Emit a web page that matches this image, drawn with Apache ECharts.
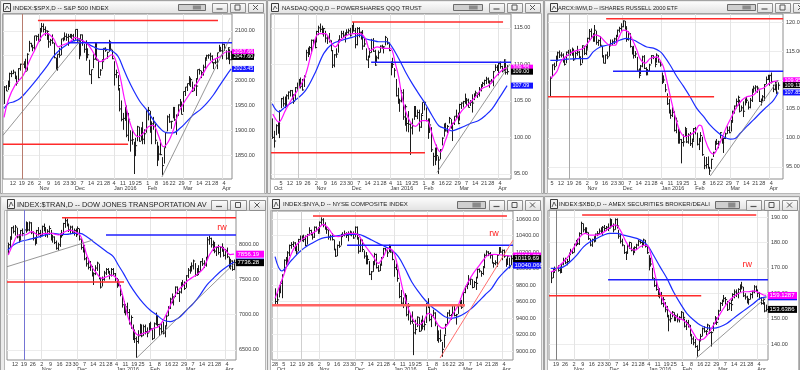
<!DOCTYPE html>
<html><head><meta charset="utf-8">
<script src="https://cdn.jsdelivr.net/npm/echarts@6.0.0/dist/echarts.min.js"></script>
<style>html,body{margin:0;padding:0;background:#dadada;overflow:hidden}#c{width:800px;height:370px}</style>
</head><body><div id="c"></div>
<script>
// ---------- shared date axis (trading-day index, 0 = Mon Oct 5 2015) ----------
const weekIdx  = [-5,0,5,10,15,20,25,30,35,39,44,49,54,58,62,67,72,76,81,86,91,95,100,105,110,115,119,124];
const weekText = ['28','5','12','19','26','2','9','16','23','30','7','14','21','28','4','11','19','25','1','8','16','22','29','7','14','21','28','4'];
const monthIdx  = [-4,20,40,62,81,101,123];
const monthText = ['Oct','Nov','Dec','Jan 2016','Feb','Mar','Apr'];

// ---------- S&P 500 ----------
const spxTitle = 'INDEX:$SPX,D -- S&P 500 INDEX';
const spxStart = 0;
const spxLow = [1953,1979,1981,1987,2007,2013,2003,1990,1998,2020,
 2022,2025,2017,2020,2058,2067,2059,2062,2080,2079,
 2080,2097,2097,2090,2082,2066,2070,2074,2045,2022,
 2020,2046,2051,2079,2082,2080,2070,2086,2084,2080,
 2082,2078,2043,2051,2070,2056,2040,2045,2012,1993,
 2025,2042,2041,2005,2010,2023,2041,2058,2044,2058,
 2062,2043,1990,2005,1980,1938,1918,1901,1919,1886,
 1878,1857,1871,1812,1848,1878,1877,1879,1872,1872,
 1895,1920,1895,1872,1901,1872,1828,1839,1850,1810,
 1833,1866,1898,1915,1903,1924,1919,1891,1929,1947,
 1932,1937,1969,1979,1990,1987,1977,1979,1969,2002,
 2012,2005,2010,2022,2042,2044,2040,2035,2023,2033,
 2023,2058,2058,2043,2060,2042,2042,2033,2041];
const spxHigh = [1989,1991,2000,2016,2020,2022,2018,2010,2025,2034,
 2034,2039,2044,2055,2080,2076,2071,2090,2091,2094,
 2106,2116,2115,2109,2101,2095,2084,2093,2076,2046,
 2053,2066,2084,2087,2097,2095,2094,2094,2094,2094,
 2103,2104,2085,2093,2093,2074,2081,2065,2042,2022,
 2053,2076,2077,2042,2023,2043,2065,2067,2058,2082,
 2077,2062,2039,2022,2011,1985,1960,1935,1947,1950,
 1935,1900,1902,1877,1885,1909,1907,1906,1917,1902,
 1940,1947,1939,1918,1927,1913,1877,1869,1881,1846,
 1865,1896,1930,1933,1919,1947,1946,1932,1952,1963,
 1958,1978,1987,1994,2009,2006,1998,1992,2005,2022,
 2024,2020,2032,2047,2052,2053,2056,2051,2036,2043,
 2056,2072,2068,2075,2074,2061,2067,2063,2060];
const spxClose = [1987,1979,1996,2014,2014,2017,2004,1995,2024,2033,
 2033,2031,2019,2053,2075,2071,2066,2090,2089,2079,
 2104,2109,2103,2100,2099,2078,2081,2076,2046,2023,
 2053,2051,2084,2082,2089,2087,2089,2089,2090,2080,
 2103,2080,2050,2092,2077,2063,2047,2052,2012,2022,
 2043,2073,2041,2006,2021,2038,2065,2061,2057,2078,
 2063,2044,2012,2016,1990,1943,1922,1924,1938,1890,
 1922,1880,1881,1859,1869,1907,1878,1903,1882,1893,
 1940,1940,1903,1913,1915,1880,1853,1852,1851,1829,
 1865,1896,1927,1917,1918,1946,1921,1929,1951,1948,
 1932,1978,1987,1994,1999,2002,1979,1990,1989,2022,
 2020,2016,2027,2041,2050,2051,2049,2036,2036,2037,
 2056,2064,2060,2073,2066,2045,2066,2042,2047.6];
const spxMaFast = [[0,1926],[2.4,1961],[6.2,1991],[10.9,2011],[14.6,2042],[17.4,2062],[21.2,2089],[24,2095],[27.8,2085],[30.6,2068],[33.4,2072],[37.2,2078],[40,2087],[42.8,2083],[46.6,2075],[49.4,2062],[52.2,2045],[54.1,2038],[57.8,2045],[60.7,2052],[62.5,2045],[65.4,2008],[67.6,1968],[70.1,1927],[72.9,1897],[75.7,1887],[78.5,1894],[81.3,1907],[84.1,1910],[87,1890],[89.8,1867],[92.6,1877],[95.4,1900],[98.2,1934],[101.1,1954],[104.8,1974],[108.6,1994],[112.3,2015],[115.1,2031],[118,2042],[121.7,2048],[125.5,2058],[128,2057.66]];
const spxMaSlow = [[0,1944],[2.4,1954],[5.2,1957],[9,1964],[12.7,1978],[16.5,1994],[20.3,2011],[24,2028],[27.8,2048],[31.5,2062],[35.3,2072],[39,2080],[42.8,2082],[46.6,2075],[50.3,2068],[54.1,2063],[57.8,2063],[61.6,2058],[64.4,2048],[67.2,2025],[70.1,2001],[72.9,1981],[76.6,1958],[80.4,1941],[84.1,1921],[87.9,1904],[91.7,1895],[95.4,1895],[99.2,1904],[102.9,1917],[106.7,1931],[110.5,1941],[114.2,1954],[118,1971],[121.7,1991],[125.5,2011],[128,2023.45]];
const spxRedTop = [[19.1,2121],[120.6,2121]];
const spxBlueLevel = [[36,2076],[128.5,2076]];
const spxRedLow = [[-0.6,1872],[69.9,1872]];
const spxTrendA = [[-0.6,1890],[43.9,2084]];
const spxTrendB = [[89,1806],[127.4,2086]];
const spxTicks = [1850,1900,1950,2000,2050,2100];
const spxTagVals = [2023.45,2057.66,2047.60];
const spxTagText = ['2023.45','2057.66','2047.60'];

// ---------- QQQ ----------
const qqqTitle = 'NASDAQ:QQQ,D -- POWERSHARES QQQ TRUST';
const qqqStart = -5;
const qqqLow = [99.8,98.6,100.3,100.5,99.9,104.0,104.2,104.0,104.2,105.2,
 105.6,105.2,104.6,105.1,106.4,106.9,106.7,106.4,106.9,110.5,
 111.0,111.3,111.5,112.5,112.2,113.0,114.0,114.4,114.1,113.8,
 113.0,112.8,113.0,111.8,109.5,109.6,110.9,111.6,113.0,113.6,
 113.6,113.0,113.9,114.2,113.8,114.2,114.5,112.2,112.6,113.7,
 113.4,112.0,112.4,110.6,109.5,110.9,111.6,111.7,109.8,110.3,
 110.7,111.6,112.1,111.5,112.6,112.7,111.8,108.5,109.5,108.2,
 105.6,104.6,103.5,104.8,102.4,101.6,100.8,100.7,97.6,100.4,
 102.4,102.8,102.5,100.8,101.3,103.2,103.7,102.2,99.8,100.6,
 98.0,96.1,96.2,96.8,95.0,97.0,98.9,100.1,100.8,100.6,
 101.9,101.2,99.5,101.7,102.6,101.8,102.3,103.9,104.1,104.6,
 104.3,104.1,104.3,103.4,105.1,105.6,105.4,105.6,106.3,106.9,
 107.1,107.3,107.4,106.8,107.4,107.0,109.1,109.1,108.5,109.4,
 108.9,109.1,108.6,108.6];
const qqqHigh = [102.6,100.9,101.8,102.1,103.7,105.4,105.6,105.6,105.9,106.3,
 106.5,106.5,105.9,106.9,107.5,108.0,108.2,108.0,108.5,112.0,
 112.3,112.5,113.4,113.4,113.6,114.6,115.3,115.6,115.3,115.0,
 114.6,113.9,114.3,113.3,111.9,111.4,112.2,113.4,114.0,114.6,
 114.6,114.4,114.8,114.9,115.0,115.4,115.8,115.0,115.1,115.1,
 114.5,114.7,113.6,112.2,111.2,112.2,113.5,113.6,112.0,111.2,
 111.9,112.6,112.7,112.5,113.9,113.6,113.0,110.4,110.9,109.5,
 108.0,106.8,105.3,106.5,106.6,104.5,102.7,103.6,101.9,102.6,
 104.3,104.3,103.8,103.8,103.3,104.8,104.9,104.1,102.6,102.6,
 101.4,97.9,98.6,99.0,97.4,98.4,100.0,101.9,102.0,101.7,
 102.8,102.5,102.0,102.9,103.8,103.4,104.6,104.8,105.0,106.0,
 105.4,105.3,105.1,105.9,106.0,106.4,106.1,106.9,107.3,107.6,
 107.9,108.3,108.2,107.8,108.0,109.1,110.0,109.9,110.2,110.4,
 109.8,110.7,110.4,109.9];
const qqqClose = [100.0,99.5,101.6,101.9,103.6,105.3,104.6,105.3,105.7,106.2,
 106.4,105.4,104.9,106.8,107.4,107.9,107.0,106.5,108.3,111.6,
 112.1,112.3,113.3,113.1,112.3,114.5,115.0,114.8,114.6,114.9,
 113.6,113.6,113.3,111.9,109.9,111.3,111.4,113.3,113.4,114.2,
 114.0,114.1,114.4,114.6,114.0,115.3,114.6,112.7,114.9,114.4,
 114.3,112.5,112.8,110.6,111.1,111.6,113.3,111.8,109.9,110.9,
 111.6,112.5,112.3,112.4,113.7,112.9,111.9,110.3,110.0,109.2,
 105.7,104.8,105.0,106.1,102.8,104.2,101.9,101.8,101.3,101.6,
 104.0,102.9,103.4,101.4,103.0,104.8,104.8,102.3,101.8,101.7,
 98.3,97.4,97.2,97.5,96.9,98.3,99.9,101.8,100.9,101.5,
 102.6,101.3,101.9,102.9,102.9,101.9,104.5,104.7,104.9,105.3,
 105.1,104.1,104.8,104.7,106.0,106.1,105.9,106.6,107.1,107.4,
 107.8,108.0,107.5,107.7,107.6,109.0,109.6,109.2,110.1,109.7,
 109.1,110.6,108.9,109.0];
const qqqMaFast = [[-4.7,103.2],[-1.3,102.1],[2.5,103.7],[6.2,105.3],[10,106.7],[13.8,108.5],[17.6,111.9],[21.3,114.2],[25.1,114.2],[28,113.1],[30.8,112.4],[33.6,113.3],[37.4,114.0],[41.2,114.2],[44.9,114.2],[47.8,113.5],[50.6,111.9],[54.4,112.4],[58.1,112.2],[61.9,112.2],[64.7,110.1],[66.6,108.3],[68.5,105.5],[70.4,103.7],[73.2,102.1],[76.1,101.5],[79.8,102.3],[82.7,102.3],[84.6,101.2],[87.4,99.1],[90.2,98.0],[93.1,99.6],[95.9,101.4],[98.7,102.3],[102.5,103.7],[106.3,104.6],[110,105.5],[113.8,106.7],[117.6,107.1],[121.4,108.3],[125.1,109.2],[128,109.55]];
const qqqMaSlow = [[-5,104.6],[-1.3,103.5],[2.5,104.2],[8.1,105.1],[13.8,106.4],[19.4,108.9],[24.2,111.5],[28.9,112.8],[34.5,113.3],[40.2,113.7],[44.9,114.0],[47.8,113.5],[51.5,113.3],[55.3,113.1],[60,113.1],[62.8,112.4],[66.6,110.8],[70.4,109.0],[74.2,107.4],[77.9,106.0],[81.7,104.6],[85.5,103.0],[89.3,101.6],[93.1,101.2],[96.8,100.9],[100.6,101.2],[104.4,101.6],[108.2,102.0],[111.9,102.3],[115.7,103.0],[119.5,103.9],[123.3,105.3],[128,107.09]];
const qqqRedTop = [[40.2,115.8],[125.7,115.8]];
const qqqBlueLevel = [[51,110.3],[130.2,110.3]];
const qqqRedLow = [[-5.7,97.9],[81.5,97.9]];
const qqqTrend = [[88.3,95.2],[129.5,110.0]];
const qqqTicks = [95,100,105,110,115];
const qqqTagVals = [107.09,109.55,109.00];
const qqqTagText = ['107.09','109.55','109.00'];

// ---------- IWM ----------
const iwmTitle = 'ARCX:IWM,D -- ISHARES RUSSELL 2000 ETF';
const iwmStart = -1;
const iwmLow = [107.1,110.5,111.7,112.4,113.2,113.8,113.9,113.0,112.5,112.9,
 114.2,114.2,114.2,113.3,113.6,114.2,113.7,112.5,112.9,114.3,
 114.3,115.4,116.9,117.1,116.6,116.6,116.1,115.9,115.8,113.9,
 112.9,112.8,113.6,114.1,115.8,116.0,116.2,116.2,117.4,118.2,
 118.5,119.1,118.7,116.6,116.8,115.6,114.4,113.7,113.8,111.6,
 110.3,111.0,112.2,111.9,110.8,110.9,111.5,112.8,113.6,112.2,
 113.0,113.0,112.3,109.3,109.5,107.9,105.7,104.2,103.3,103.6,
 101.1,100.8,99.0,99.0,95.6,98.5,100.2,99.1,99.0,98.6,
 98.3,99.5,100.6,98.7,97.9,99.3,96.9,94.6,94.7,94.7,
 93.6,94.6,96.7,97.9,98.8,98.2,99.9,99.0,97.4,99.8,
 100.7,100.8,101.1,102.6,104.2,105.1,105.6,104.4,104.6,103.6,
 105.6,106.0,104.9,105.1,106.2,107.8,108.0,107.8,106.2,105.6,
 106.3,106.4,109.3,110.0,109.0,109.4,107.9,108.2,107.6,108.3];
const iwmHigh = [110.6,112.7,113.0,114.2,114.9,115.1,114.8,114.6,113.8,114.9,
 115.2,115.3,115.6,115.4,114.9,115.9,115.0,114.0,116.0,115.9,
 115.9,117.3,118.8,118.9,118.1,119.5,118.5,117.0,117.6,115.9,
 114.3,114.4,114.9,116.2,117.0,117.0,117.3,117.8,118.7,119.2,
 119.8,120.3,120.2,119.3,118.4,118.1,115.8,115.9,115.0,114.0,
 112.0,112.6,114.2,114.3,112.2,111.9,112.8,114.3,114.3,113.8,
 114.6,114.3,113.3,111.3,110.8,109.3,107.7,106.7,104.9,105.3,
 104.6,103.5,101.6,101.4,99.8,100.6,101.9,101.5,100.8,101.0,
 99.9,101.7,101.9,100.9,100.0,101.0,100.2,96.8,96.7,96.8,
 95.0,96.4,97.6,99.5,99.8,99.5,101.0,100.5,100.0,100.9,
 102.0,102.0,103.1,104.7,105.6,106.8,107.3,106.6,105.6,106.3,
 106.8,107.1,106.3,106.9,108.5,109.0,109.1,109.0,108.2,106.8,
 107.4,109.3,110.6,110.9,110.9,111.3,109.2,109.7,109.4,109.6];
const iwmClose = [110.3,112.6,112.3,114.0,114.7,114.3,114.3,113.3,112.7,114.8,
 114.9,114.8,114.9,113.5,114.6,114.8,114.0,112.7,115.9,114.6,
 115.2,117.2,118.4,117.5,117.3,118.6,116.5,116.8,116.0,114.0,
 112.9,114.3,114.0,116.1,116.3,116.6,117.1,117.6,118.6,118.9,
 119.2,120.2,118.9,117.0,118.0,115.8,114.9,114.2,114.5,111.7,
 110.8,112.4,114.0,112.0,110.9,111.6,112.6,114.2,113.9,112.7,
 114.3,113.1,112.6,110.3,110.0,108.3,105.9,104.4,103.9,104.4,
 101.3,102.9,99.7,99.7,99.2,99.3,101.6,99.3,100.5,99.0,
 99.4,101.6,101.5,98.9,99.8,100.4,97.1,95.2,95.4,94.8,
 94.3,96.3,97.5,99.4,99.0,99.3,100.9,99.2,99.9,100.7,
 101.3,100.9,103.0,104.6,105.5,106.3,107.0,104.6,105.2,104.6,
 106.7,106.5,105.3,106.5,108.3,108.6,108.8,108.6,106.3,106.5,
 107.1,109.2,110.1,110.6,110.8,109.7,108.4,109.6,107.9,109.1];
const iwmMaFast = [[-0.8,110.3],[2.6,111.4],[5.5,113.4],[12.1,114.9],[17.7,115.5],[21.5,116.9],[24.3,117.8],[27.2,117.5],[30,116.6],[32.8,116.0],[35.7,116.0],[37.6,117.2],[40.4,118.6],[43.2,118.3],[45.1,117.2],[48,115.2],[49.8,113.7],[52.7,112.9],[55.5,113.7],[59.3,114.0],[61.5,113.2],[63,112.3],[65.3,109.4],[67.8,106.0],[70.2,103.1],[72.5,101.1],[75.3,100.2],[78.1,100.5],[81,101.1],[83.4,102.2],[84.7,102.0],[86.6,99.7],[89.5,97.6],[91.4,97.2],[93.6,98.2],[96.1,99.9],[98.9,102.0],[101.7,103.7],[104.6,105.4],[107.4,106.5],[110.2,107.1],[114,107.4],[116.8,108.3],[119.7,108.6],[123.4,109.5],[128,109.9]];
const iwmMaSlow = [[-1,113.4],[2.6,113.4],[8.3,113.6],[14,113.7],[19.6,113.7],[23.4,114.9],[27.2,115.7],[31,116.0],[34.7,116.4],[38.5,116.9],[42.3,117.2],[46.1,116.9],[49.8,116.3],[53.6,115.7],[57.4,115.5],[61.2,114.9],[63,114.3],[66.8,112.6],[70.6,110.6],[74.4,108.9],[78.1,107.1],[81.9,105.1],[85.7,103.7],[89.5,102.2],[93.2,101.1],[97,100.2],[100.8,99.8],[103.6,99.9],[106.5,100.8],[110.2,102.0],[114,103.1],[117.8,104.3],[121.6,105.4],[125.3,106.5],[128,107.85]];
const iwmRedTop = [[30.6,120.6],[130.8,120.6]];
const iwmBlueLevel = [[34.5,111.5],[130.8,111.5]];
const iwmRedLow = [[-2.3,107.1],[91.7,107.1]];
const iwmTrend = [[89.5,93.4],[128,110.0]];
const iwmTicks = [95,100,105,110,115,120];
const iwmTagVals = [107.85,109.95,109.11];
const iwmTagText = ['107.85','109.95','109.11'];

// ---------- Dow Jones Transportation ----------
const tranTitle = 'INDEX:$TRAN,D -- DOW JONES TRANSPORTATION AV';
const tranStart = 1;
const tranLow = [7860,7950,8060,8150,8120,8080,8020,8050,8110,8090,
 8160,8180,8180,8140,8050,7980,8010,8120,8090,8110,
 8180,8100,8090,8130,8050,8020,8000,7920,7910,7960,
 8090,8130,8230,8250,8170,8140,8150,8120,8100,8130,
 8050,7920,7880,7770,7680,7640,7620,7540,7420,7560,
 7620,7500,7370,7400,7480,7560,7580,7500,7540,7560,
 7470,7380,7400,7260,7100,7020,6990,6980,6860,6800,
 6640,6600,6390,6590,6700,6680,6700,6720,6680,6750,
 6780,6640,6660,6850,6830,6700,6720,6720,6680,6830,
 6980,7080,7160,7130,7250,7290,7180,7300,7390,7350,
 7380,7520,7580,7610,7640,7540,7550,7560,7620,7690,
 7660,7680,7780,7990,7950,7900,7870,7830,7850,7810,
 7890,7820,7780,7800,7660,7640,7620,7630];
const tranHigh = [8020,8110,8240,8260,8270,8230,8140,8200,8220,8210,
 8320,8310,8320,8310,8180,8100,8200,8240,8200,8260,
 8290,8240,8210,8260,8200,8130,8110,8050,8020,8150,
 8200,8300,8370,8360,8290,8260,8260,8220,8220,8250,
 8220,8080,8010,7960,7820,7800,7760,7690,7600,7700,
 7750,7720,7530,7540,7620,7660,7660,7620,7660,7660,
 7590,7520,7500,7420,7280,7190,7150,7170,7080,6990,
 6860,6790,6690,6780,6870,6860,6860,6860,6820,6880,
 6900,6810,6890,7030,6990,6870,6880,6900,6850,7000,
 7120,7240,7300,7260,7400,7400,7340,7460,7490,7470,
 7560,7660,7690,7740,7780,7730,7660,7700,7760,7800,
 7770,7820,8100,8120,8090,8050,8030,7960,7990,7960,
 8010,7960,7930,7950,7820,7790,7770,7780];
const tranClose = [7990,8090,8230,8180,8240,8100,8060,8190,8150,8200,
 8290,8200,8300,8160,8080,8010,8190,8150,8120,8250,
 8200,8130,8180,8220,8070,8100,8020,7940,7990,8140,
 8120,8290,8330,8270,8200,8240,8170,8190,8130,8220,
 8070,7950,7980,7790,7720,7670,7700,7560,7580,7660,
 7730,7520,7390,7500,7590,7640,7600,7560,7640,7580,
 7510,7450,7420,7290,7140,7050,7110,7030,6880,6960,
 6690,6660,6620,6700,6850,6700,6830,6760,6740,6870,
 6800,6660,6870,6980,6860,6800,6760,6740,6810,6980,
 7090,7220,7180,7240,7390,7300,7320,7450,7420,7370,
 7550,7630,7670,7690,7760,7560,7640,7610,7750,7720,
 7700,7800,8060,8080,7990,8020,7900,7950,7880,7950,
 7920,7840,7910,7820,7690,7760,7640,7736.28];
const tranMaFast = [[1.25,7844],[4.1,8010],[6.9,8128],[10.6,8128],[14.4,8175],[18.1,8128],[21.8,8151],[25.6,8151],[29.3,8128],[33.1,8175],[35.9,8198],[38.7,8175],[41.5,8128],[43.4,8010],[45.3,7844],[48.1,7679],[50.9,7585],[53.7,7514],[56.5,7537],[59.3,7561],[61.2,7537],[63.1,7467],[64.9,7325],[66.8,7136],[68.7,6947],[71.5,6782],[74.3,6711],[77.1,6735],[79.9,6758],[82.7,6806],[85.5,6829],[88.3,6924],[91.1,7065],[94,7231],[96.8,7349],[99.6,7419],[102.4,7490],[105.2,7537],[108,7585],[110.8,7655],[112.7,7760],[114.5,7860],[117.3,7950],[120.2,7965],[123,7915],[125.8,7850],[128,7856.19]];
const tranMaSlow = [[1,7915],[4.1,7986],[7.8,8033],[11.6,8057],[15.3,8080],[19,8104],[22.8,8137],[26.5,8151],[30.3,8137],[34,8137],[37.8,8151],[41.5,8151],[45.3,8104],[49,8033],[52.8,7962],[56.5,7891],[60.2,7821],[63,7703],[65.9,7585],[69.6,7419],[73.4,7278],[77.1,7160],[80.8,7065],[84.6,6994],[88.3,6924],[92.1,6900],[94.9,6924],[97.7,6971],[101.4,7065],[105.2,7160],[108.9,7278],[112.7,7419],[116.4,7514],[120.2,7608],[123.9,7679],[128,7745]];
const tranRedTop = [[31.4,8372],[129.1,8372]];
const tranBlueLevel = [[56.1,8127],[129.1,8127]];
const tranRedLow = [[0.5,7462],[66.2,7462]];
const tranTrendA = [[0.5,7679],[48.8,8057]];
const tranTrendB = [[73.5,6391],[128.6,7736]];
const tranTicks = [6500,7000,7500,8000];
const tranTagVals = [7745.20,7856.19,7736.28];
const tranTagText = ['7745.20','7856.19','7736.28'];
const tranRw = [[121.3,8227]];

// ---------- NYSE Composite ----------
const nyaTitle = 'INDEX:$NYA,D -- NYSE COMPOSITE INDEX';
const nyaStart = -5;
const nyaLow = [9560,9570,9650,9700,9640,9950,10040,10070,10150,10240,
 10260,10210,10170,10210,10330,10330,10320,10270,10290,10400,
 10400,10350,10370,10450,10420,10440,10530,10500,10470,10420,
 10350,10340,10340,10220,10140,10150,10250,10280,10380,10390,
 10370,10330,10400,10390,10360,10380,10350,10180,10200,10200,
 10120,10050,10050,9920,9860,9960,10040,10000,9960,9970,
 10040,10130,10200,10140,10200,10190,10100,9900,9980,9840,
 9640,9560,9520,9560,9420,9370,9320,9330,8950,9200,
 9290,9230,9240,9260,9250,9340,9520,9360,9290,9400,
 9300,9120,9100,9110,8930,9040,9200,9320,9420,9380,
 9440,9420,9320,9450,9540,9510,9540,9700,9750,9800,
 9800,9760,9770,9740,9880,9950,9900,9920,10010,10150,
 10150,10120,10060,10010,10040,10020,10170,10190,10100,10130,
 10020,10050,10000,10040];
const nyaHigh = [9760,9700,9800,9840,9930,10110,10140,10210,10290,10320,
 10330,10320,10280,10360,10400,10400,10410,10400,10420,10500,
 10470,10430,10510,10510,10500,10570,10620,10610,10560,10510,
 10470,10410,10430,10350,10240,10290,10330,10420,10440,10460,
 10440,10450,10460,10450,10450,10510,10510,10380,10360,10350,
 10220,10200,10160,10090,9970,10090,10190,10180,10040,10060,
 10140,10250,10250,10220,10290,10280,10210,10100,10060,9990,
 9830,9740,9650,9700,9680,9580,9440,9480,9330,9380,
 9420,9410,9380,9430,9380,9580,9640,9540,9450,9500,
 9470,9310,9250,9260,9110,9200,9330,9470,9500,9450,
 9560,9550,9450,9560,9640,9620,9720,9790,9830,9920,
 9890,9870,9850,9900,10000,10000,9970,10030,10180,10220,
 10210,10200,10170,10070,10100,10170,10260,10260,10230,10230,
 10120,10160,10130,10160];
const nyaClose = [9600,9620,9790,9820,9920,10100,10080,10190,10280,10290,
 10310,10230,10200,10350,10390,10370,10350,10280,10410,10460,
 10420,10380,10500,10470,10430,10560,10590,10530,10500,10470,
 10380,10390,10350,10230,10150,10280,10270,10410,10400,10420,
 10400,10420,10420,10420,10370,10500,10370,10210,10350,10230,
 10150,10080,10110,9930,9960,10050,10170,10010,9970,10040,
 10120,10240,10220,10190,10280,10200,10110,10010,10030,9880,
 9660,9580,9560,9620,9440,9540,9360,9360,9220,9260,
 9410,9240,9370,9300,9320,9570,9560,9380,9430,9460,
 9330,9200,9150,9130,9020,9190,9320,9460,9430,9430,
 9550,9430,9440,9550,9580,9530,9710,9780,9820,9860,
 9870,9770,9830,9820,9990,9970,9940,10010,10160,10200,
 10180,10160,10070,10060,10070,10160,10230,10200,10220,10150,
 10050,10150,10020,10119.69];
const nyaMaFast = [[-5,9638],[-2.2,9800],[0.6,9962],[3.5,10143],[6.3,10265],[10,10345],[13.8,10406],[17.5,10446],[20.4,10507],[22.2,10535],[25.1,10487],[27.9,10406],[30.7,10386],[33.5,10406],[36.3,10426],[39.1,10426],[42,10406],[44.8,10305],[47.6,10224],[50.4,10143],[53.2,10063],[56,10143],[58.9,10244],[61.7,10204],[63.5,10083],[65.4,9901],[67.3,9719],[70.1,9517],[73,9376],[75.8,9315],[78.6,9356],[81.4,9457],[84.2,9416],[87,9315],[89.8,9275],[92.7,9335],[95.5,9457],[98.3,9558],[101.1,9719],[103.9,9840],[106.7,9941],[109.6,10022],[112.4,10103],[115.2,10164],[118.9,10172],[122.7,10164],[128,10150]];
const nyaMaSlow = [[-5,10143],[-1.2,9970],[4.4,10103],[10,10224],[15.7,10305],[21.3,10366],[26.9,10386],[32.6,10406],[38.2,10414],[42,10414],[45.7,10386],[49.5,10345],[53.2,10305],[57,10265],[60.7,10224],[64.5,10143],[68.2,10002],[72,9840],[75.8,9719],[79.5,9618],[83.3,9537],[87,9477],[90.8,9416],[94.5,9396],[98.3,9416],[102,9457],[105.8,9517],[109.6,9598],[113.3,9679],[117.1,9760],[120.8,9881],[124.6,9970],[128,10040.066]];
const nyaRedTop = [[16.4,10636],[125.7,10636]];
const nyaBlueLevel = [[35.6,10282],[129.1,10282]];
const nyaRedLow = [[-6.7,9555],[102,9555]];
const nyaTrend = [[88,8915],[129.1,10343]];
const nyaTicks = [9000,9200,9400,9600,9800,10000,10200,10400,10600];
const nyaTagVals = [10040.066,10151.2,10119.69];
const nyaTagText = ['10040.066','10151.20','10119.69'];
const nyaRw = [[118.4,10430]];

// ---------- AMEX Securities Broker/Dealer ----------
const xbdTitle = 'INDEX:$XBD,D -- AMEX SECURITIES BROKER/DEALI';
const xbdStart = 7;
const xbdLow = [164.0,166.0,168.0,168.0,168.5,167.8,168.0,171.0,171.5,171.0,
 172.5,175.0,175.5,176.0,178.5,179.0,179.0,183.0,184.0,183.5,
 183.5,181.0,178.5,178.3,180.0,180.5,182.5,183.0,183.5,183.0,
 184.5,184.5,184.5,185.5,186.0,184.0,185.0,185.5,181.5,179.6,
 178.5,175.5,173.1,175.5,177.5,176.5,175.0,176.0,177.0,178.5,
 179.5,178.0,179.0,178.0,175.5,169.0,170.5,165.5,162.5,161.0,
 158.5,158.0,155.5,154.5,152.5,150.5,145.0,148.5,150.5,149.0,
 149.0,148.5,148.5,150.0,149.5,146.5,145.5,146.5,143.0,140.0,
 139.5,138.5,135.0,137.5,141.0,143.0,144.5,143.5,145.5,144.0,
 139.0,145.0,148.0,147.5,149.5,153.0,155.0,156.5,155.5,153.0,
 153.5,153.0,157.0,158.0,158.5,158.0,160.5,161.5,158.5,157.5,
 156.0,155.5,157.5,158.0,160.0,160.5,158.5,157.5,155.5,155.5,
 152.5,152.8];
const xbdHigh = [168.5,169.5,170.5,170.5,171.0,170.5,171.8,174.0,174.0,173.5,
 176.0,177.5,177.5,179.5,181.0,181.5,184.0,188.2,187.5,186.0,
 186.0,184.0,181.5,181.5,182.5,183.5,184.5,185.5,186.0,186.5,
 186.9,186.5,187.5,189.5,189.0,187.5,189.5,189.5,185.0,183.5,
 181.5,179.0,176.5,179.0,180.3,180.0,178.0,178.5,179.5,181.0,
 181.0,180.5,181.5,181.0,178.5,175.0,174.0,170.0,166.0,165.0,
 162.5,162.0,160.5,158.5,156.5,155.0,151.5,152.0,153.0,152.5,
 151.5,152.0,151.0,153.0,152.5,150.0,149.5,149.5,147.5,144.0,
 143.0,142.0,139.5,142.0,144.0,146.5,147.0,145.5,148.0,147.5,
 145.0,148.5,151.0,150.5,153.5,156.5,157.5,159.3,158.5,157.0,
 156.5,157.5,160.0,161.5,161.5,162.0,163.5,164.5,162.5,160.0,
 159.0,158.0,160.0,161.0,163.2,163.0,161.5,160.5,158.5,158.0,
 156.5,155.5];
const xbdClose = [166.0,169.3,169.0,170.0,169.0,168.2,171.5,173.0,172.0,172.5,
 175.8,176.5,176.0,179.3,180.5,179.5,183.5,187.5,185.0,185.5,
 184.0,181.5,179.0,181.2,180.5,183.3,183.5,184.5,185.0,186.0,
 185.5,186.0,185.5,189.0,186.5,185.0,189.0,186.5,182.5,180.5,
 179.0,176.0,176.0,178.5,180.0,177.0,176.0,178.0,179.0,180.5,
 180.0,179.5,181.0,178.5,176.0,172.5,171.5,166.0,163.0,161.5,
 160.0,159.5,156.0,157.5,153.5,151.0,149.5,150.0,152.5,149.5,
 151.0,149.5,150.5,152.5,150.5,147.0,148.5,147.5,143.5,142.0,
 140.5,139.0,137.5,141.5,143.0,146.0,145.0,145.0,147.5,144.5,
 144.5,148.0,149.5,148.5,153.0,156.0,157.0,158.0,157.5,153.5,
 156.0,155.5,159.5,160.5,160.0,161.5,162.0,162.5,159.0,158.5,
 156.5,157.5,159.5,160.5,162.5,161.0,160.0,158.0,156.0,157.5,
 153.0,153.64];
const xbdMaFast = [[7,168.5],[9.4,169.1],[12.2,171.1],[16,173.7],[19.7,177.7],[23.5,182.3],[26.3,183.6],[29.1,182.9],[31.9,182.9],[35.7,183.6],[39.4,185.5],[43.1,186.9],[46,184.9],[48.8,180.9],[51.6,177.7],[54.4,177.0],[57.2,178.3],[60,179.0],[61.9,178.3],[63.7,173.7],[65.6,167.2],[67.5,161.9],[70.3,156.7],[73.1,153.4],[75.9,151.4],[78.7,150.1],[81.5,149.4],[84.3,147.5],[87.2,144.2],[90,141.6],[92.8,142.0],[95.6,144.2],[98.4,147.5],[101.2,150.8],[104,154.0],[106.8,156.7],[109.6,158.6],[112.4,159.9],[115.2,160.6],[118,160.6],[120.9,160.9],[123.7,160.3],[126.5,159.3],[128,159.13]];
const xbdMaSlow = [[7,169.8],[10.4,169.8],[14.1,170.4],[17.9,172.4],[21.6,175.0],[25.4,178.3],[29.1,180.3],[32.8,181.6],[36.6,182.9],[40.3,183.6],[44.1,183.6],[47.8,182.9],[51.6,182.3],[55.3,181.6],[59.1,180.3],[61.9,178.3],[64.7,175.0],[68.4,170.4],[72.2,165.9],[75.9,160.6],[79.7,156.0],[83.4,152.1],[87.2,149.5],[90.9,147.5],[94.6,146.4],[98.4,146.2],[102.1,146.8],[105.9,148.1],[109.6,150.1],[113.4,152.1],[117.1,154.0],[120.9,156.0],[124.6,158.0],[128,158.6]];
const xbdRedTop = [[24.6,190.8],[122.4,190.8]];
const xbdBlueLevel = [[39.2,165.3],[129,165.3]];
const xbdRedLow = [[6,159],[91.5,159]];
const xbdTrend = [[88.7,134.4],[128.5,158.7]];
const xbdTicks = [140,150,160,170,180,190];
const xbdTagVals = [158.5961,159.1287,153.6386];
const xbdTagText = ['158.5961','159.1287','153.6386'];
const xbdRw = [[117.3,171.5]];

const oct19 = 10;

// ====================== presentation ======================
const FONT = '"Liberation Sans", Arial, sans-serif';
const LS = {
  red:   {color:'#ff2b2b', width:1.5},
  blue:  {color:'#1f1fff', width:1.5},
  gray:  {color:'#7c7c7c', width:0.8},
  salmonThick: {color:'#ff6464', width:2.6},
  salmon: {color:'#ff6f6f', width:1}
};
const panels = [
 {title:spxTitle, start:spxStart, low:spxLow, high:spxHigh, close:spxClose, fast:spxMaFast, slow:spxMaSlow,
  lines:[[spxRedTop,'red'],[spxBlueLevel,'blue'],[spxRedLow,'red'],[spxTrendA,'gray'],[spxTrendB,'gray']],
  ticks:spxTicks, tagVals:spxTagVals, tagText:spxTagText, rw:null,
  L:{g:[3,14,229,165], x:[-0.6,128.5], y:[1802,2134], vline:'#b87c6e', tagW:22, tagH:6, fs:5.5, row:0,
     win:[0,0,267,194], content:[2,13,262,180], barY:2, barH:11, icon:3, tx:13, tw:96, close:263, bw:15, bh:9, btop:3, wid:[178,27]}},
 {title:qqqTitle, start:qqqStart, low:qqqLow, high:qqqHigh, close:qqqClose, fast:qqqMaFast, slow:qqqMaSlow,
  lines:[[qqqRedTop,'red'],[qqqBlueLevel,'blue'],[qqqRedLow,'red'],[qqqTrend,'gray']],
  ticks:qqqTicks, tagVals:qqqTagVals, tagText:qqqTagText, rw:null,
  L:{g:[271,14,240,165], x:[-5.7,130.2], y:[94.3,116.9], vline:'#c8c8c8', tagW:22, tagH:6, fs:5.5, row:0,
     win:[267,0,277,194], content:[270,13,271,180], barY:2, barH:11, icon:271, tx:282, tw:140, close:540, bw:15, bh:9, btop:3, wid:[453,29]}},
 {title:iwmTitle, start:iwmStart, low:iwmLow, high:iwmHigh, close:iwmClose, fast:iwmMaFast, slow:iwmMaSlow,
  lines:[[iwmRedTop,'red'],[iwmBlueLevel,'blue'],[iwmRedLow,'red'],[iwmTrend,'gray']],
  ticks:iwmTicks, tagVals:iwmTagVals, tagText:iwmTagText, rw:null,
  L:{g:[548,14,235,165], x:[-2.3,130.7], y:[92.9,121.4], vline:'#a8a8a8', tagW:22, tagH:6, fs:5.5, row:0,
     win:[544,0,270,194], content:[547,13,262,180], barY:2, barH:11, icon:550, tx:558, tw:120, close:808, bw:15, bh:9, btop:3, wid:[727,28]}},
 {title:tranTitle, start:tranStart, low:tranLow, high:tranHigh, close:tranClose, fast:tranMaFast, slow:tranMaSlow,
  lines:[[tranRedTop,'red'],[tranBlueLevel,'blue'],[tranRedLow,'red'],[tranTrendA,'gray'],[tranTrendB,'gray']],
  ticks:tranTicks, tagVals:tranTagVals, tagText:tranTagText, rw:tranRw,
  L:{g:[7,210,229,150], x:[0.5,129.1], y:[6358,8482], vline:'#7474d4', tagW:28, tagH:7, fs:6, row:1,
     win:[0,196,268,180], content:[4,210,261,160], barY:198, barH:12, icon:7, tx:17, tw:190, close:265, bw:16, bh:10, btop:200, wid:null}},
 {title:nyaTitle, start:nyaStart, low:nyaLow, high:nyaHigh, close:nyaClose, fast:nyaMaFast, slow:nyaMaSlow,
  lines:[[nyaRedTop,'red'],[nyaBlueLevel,'blue'],[nyaRedLow,'salmonThick'],[nyaTrend,'salmon']],
  ticks:nyaTicks, tagVals:nyaTagVals, tagText:nyaTagText, rw:nyaRw,
  L:{g:[272,211,241,149], x:[-6.7,129.1], y:[8891,10697], vline:'#cfcfcf', tagW:28, tagH:7, fs:6, row:1,
     win:[267,196,277,180], content:[270,210,271,160], barY:198, barH:12, icon:272, tx:283, tw:125, close:540, bw:15, bh:10, btop:200, wid:[457,28]}},
 {title:xbdTitle, start:xbdStart, low:xbdLow, high:xbdHigh, close:xbdClose, fast:xbdMaFast, slow:xbdMaSlow,
  lines:[[xbdRedTop,'red'],[xbdBlueLevel,'blue'],[xbdRedLow,'red'],[xbdTrend,'gray']],
  ticks:xbdTicks, tagVals:xbdTagVals, tagText:xbdTagText, rw:xbdRw,
  L:{g:[549,210,219,150], x:[6,129], y:[133.7,192.8], vline:'#808080', tagW:29, tagH:7, fs:6, row:1,
     win:[544,196,256,180], content:[547,210,251,160], barY:198, barH:12, icon:550, tx:559, tw:151, close:797, bw:15, bh:10, btop:200, wid:[715,24]}}
];

const mctx = document.createElement('canvas').getContext('2d');
function fitSize(text, w){ mctx.font = '10px "Liberation Sans"'; return 10 * w / mctx.measureText(text).width; }

const grids=[], xAxes=[], yAxes=[], series=[], graphics=[];
const TXT = '#3a3a3a';

panels.forEach((p, pi) => {
  const L = p.L;
  grids.push({left:L.g[0], top:L.g[1], width:L.g[2], height:L.g[3], show:true, borderColor:'#8e8e8e', borderWidth:1,
              backgroundColor:'transparent', containLabel:false, outerBoundsMode:'none'});
  const wk = [], mo = [];
  weekIdx.forEach((v)=>{ if (v >= L.x[0]+1.2 && v <= L.x[1]-1) wk.push(v); });
  monthIdx.forEach((v)=>{ if (v >= L.x[0] && v <= L.x[1]-2) mo.push(v); });
  const dm = L.row ? 1.7 : 1.3, mm = L.row ? 6.2 : 6.4;
  xAxes.push({type:'value', gridIndex:pi, min:L.x[0], max:L.x[1], position:'bottom',
    axisLine:{show:false}, axisTick:{show:false, customValues:wk}, splitLine:{show:false},
    axisLabel:{customValues:wk, margin:dm, fontSize:5.5, fontFamily:FONT, color:TXT,
      formatter:(v)=>{ const k = weekIdx.indexOf(v); return k>=0 ? weekText[k] : ''; }}});
  xAxes.push({type:'value', gridIndex:pi, min:L.x[0], max:L.x[1], position:'bottom',
    axisLine:{show:false}, axisTick:{show:false, customValues:mo},
    splitLine:{show:true, lineStyle:{color:'#e4e4e4', width:1}},
    axisLabel:{customValues:mo, margin:mm, fontSize:5.5, fontFamily:FONT, color:TXT, align:'left',
      formatter:(v)=>{ const k = monthIdx.indexOf(v); return k>=0 ? monthText[k] : ''; }}});
  yAxes.push({type:'value', gridIndex:pi, min:L.y[0], max:L.y[1], position:'right', scale:true,
    axisLine:{show:false}, axisTick:{show:false, customValues:p.ticks},
    splitLine:{show:true, lineStyle:{color:'#ececec', width:1}},
    axisLabel:{customValues:p.ticks, margin:3, fontSize:5.5, fontFamily:FONT, color:TXT,
      formatter:(v)=>v.toFixed(2)}});
  const xi = pi*2, yi = pi;
  const barData = p.low.map((lo,k)=>[p.start+k, lo, p.high[k], p.close[k]]);
  series.push({type:'custom', xAxisIndex:xi, yAxisIndex:yi, data:barData, z:3, clip:true, silent:true,
    encode:{x:0, y:[1,2,3]},
    renderItem:(params, api)=>{
      const i=api.value(0), a=api.coord([i, api.value(1)]), b=api.coord([i, api.value(2)]), c=api.coord([i, api.value(3)]);
      const x = Math.round(a[0]) + 0.5;
      let y1=a[1], y2=b[1]; if (y1-y2 < 1.5) { y2 = y1-1.5; }
      return {type:'group', children:[
        {type:'line', shape:{x1:x,y1:y1,x2:x,y2:y2}, style:{stroke:'#1c1c1c', lineWidth:1}},
        {type:'line', shape:{x1:x,y1:c[1],x2:x+1.6,y2:c[1]}, style:{stroke:'#1c1c1c', lineWidth:1}}
      ]};
    },
    markLine:{silent:true, symbol:'none', animation:false, label:{show:false},
      lineStyle:{color:L.vline, width:1, type:'solid'}, data:[{xAxis:oct19}]}
  });
  series.push({type:'line', xAxisIndex:xi, yAxisIndex:yi, data:p.slow, smooth:0.35, showSymbol:false, symbol:'none',
    lineStyle:{color:'#1c2dff', width:1.2}, z:4, silent:true});
  series.push({type:'line', xAxisIndex:xi, yAxisIndex:yi, data:p.fast, smooth:0.35, showSymbol:false, symbol:'none',
    lineStyle:{color:'#ff10ff', width:1.2}, z:4, silent:true});
  p.lines.forEach(([d, s])=>{
    series.push({type:'line', xAxisIndex:xi, yAxisIndex:yi, data:d, showSymbol:false, symbol:'none',
      lineStyle:{color:LS[s].color, width:LS[s].width}, z:5, silent:true});
  });
  const tagCol = ['#1414ff','#ff00ff','#000000'];
  series.push({type:'custom', xAxisIndex:xi, yAxisIndex:yi, z:8, clip:false, silent:true,
    data:p.tagVals.map((v,k)=>[L.x[1], v, k]), encode:{x:0,y:1},
    renderItem:(params, api)=>{
      const cs = params.coordSys; const y = api.coord([L.x[1], api.value(1)])[1];
      const k = api.value(2); const x0 = cs.x + cs.width;
      return {type:'group', children:[
        {type:'rect', shape:{x:x0, y:y-L.tagH/2, width:L.tagW, height:L.tagH}, style:{fill:tagCol[k]}},
        {type:'text', style:{text:p.tagText[params.dataIndex], x:x0+1.5, y:y, fill:'#ffffff', fontSize:L.fs, fontFamily:FONT, verticalAlign:'middle', align:'left'}}
      ]};
    }});
  if (p.rw) {
    series.push({type:'custom', xAxisIndex:xi, yAxisIndex:yi, z:8, clip:false, silent:true, data:p.rw, encode:{x:0,y:1},
      renderItem:(params, api)=>{ const c = api.coord([api.value(0), api.value(1)]);
        return {type:'text', style:{text:'rw', x:c[0], y:c[1], fill:'#ff2020', fontSize:9, fontFamily:FONT, align:'center', verticalAlign:'middle'}}; }});
  }
  // ---- window chrome ----
  const [wx,wy,ww,wh] = L.win;
  graphics.push({type:'rect', z:-30, silent:true, shape:{x:wx+0.5,y:wy+0.5,width:ww-1,height:wh-1}, style:{fill:'#ebebeb', stroke:'#a2a2a2', lineWidth:1}});
  const [cx,cy,cw,ch] = L.content;
  graphics.push({type:'rect', z:-29, silent:true, shape:{x:cx+0.5,y:cy+0.5,width:cw,height:ch}, style:{fill:'#ffffff', stroke:'#b8b8b8', lineWidth:1}});
  graphics.push({type:'rect', z:-28, silent:true, shape:{x:wx+2,y:L.barY,width:ww-4,height:L.barH},
    style:{fill:{type:'linear',x:0,y:0,x2:0,y2:1,colorStops:[{offset:0,color:'#fbfbfb'},{offset:1,color:'#e3e3e3'}]}}});
  graphics.push({type:'rect', z:20, silent:true, shape:{x:L.icon+0.5,y:L.barY+1.5,width:7,height:L.barH-3}, style:{fill:'#f2f2f2', stroke:'#3c3c3c', lineWidth:1}});
  graphics.push({type:'polyline', z:21, silent:true, shape:{points:[[L.icon+2,L.barY+L.barH-3],[L.icon+4,L.barY+4],[L.icon+6,L.barY+L.barH-4]]}, style:{stroke:'#3c3c3c', lineWidth:0.8, fill:null}});
  graphics.push({type:'text', z:21, silent:true, x:L.tx, y:L.barY+L.barH/2+0.5,
    style:{text:p.title, fontSize:fitSize(p.title, L.tw), fontFamily:FONT, fill:'#1e1e1e', verticalAlign:'middle'}});
  if (L.wid) {
    graphics.push({type:'rect', z:20, silent:true, shape:{x:L.wid[0]+0.5,y:L.btop+1.5,width:L.wid[1],height:L.bh-3}, style:{fill:'#cfcfcf', stroke:'#6c6c6c', lineWidth:1}});
    graphics.push({type:'rect', z:21, silent:true, shape:{x:L.wid[0]+L.wid[1]*0.55,y:L.btop+2.5,width:L.wid[1]*0.3,height:L.bh-5}, style:{fill:'#8a8a8a'}});
  }
  for (let b=0; b<3; b++) {
    const r = L.close - b*(L.bw+3), bx = r - L.bw, by = L.btop;
    graphics.push({type:'rect', z:20, silent:true, shape:{x:bx+0.5,y:by+0.5,width:L.bw,height:L.bh},
      style:{fill:{type:'linear',x:0,y:0,x2:0,y2:1,colorStops:[{offset:0,color:'#fdfdfd'},{offset:1,color:'#dedede'}]}, stroke:'#8f8f8f', lineWidth:1}});
    const mx = bx + L.bw/2, my = by + L.bh/2;
    if (b===0) {
      graphics.push({type:'polyline', z:21, silent:true, shape:{points:[[mx-2.5,my-2.5],[mx+2.5,my+2.5]]}, style:{stroke:'#555', lineWidth:1}});
      graphics.push({type:'polyline', z:21, silent:true, shape:{points:[[mx-2.5,my+2.5],[mx+2.5,my-2.5]]}, style:{stroke:'#555', lineWidth:1}});
    } else if (b===1) {
      graphics.push({type:'rect', z:21, silent:true, shape:{x:mx-2.5,y:my-2.5,width:5,height:5}, style:{fill:null, stroke:'#555', lineWidth:1}});
    } else {
      graphics.push({type:'polyline', z:21, silent:true, shape:{points:[[mx-3,my+1.5],[mx+3,my+1.5]]}, style:{stroke:'#555', lineWidth:1.2}});
    }
  }
});

const chart = echarts.init(document.getElementById('c'), null, {renderer:'canvas', width:800, height:370});
chart.setOption({
  animation:false,
  backgroundColor:'#dadada',
  grid:grids, xAxis:xAxes, yAxis:yAxes, series:series,
  graphic:{elements:graphics}
});
</script></body></html>
